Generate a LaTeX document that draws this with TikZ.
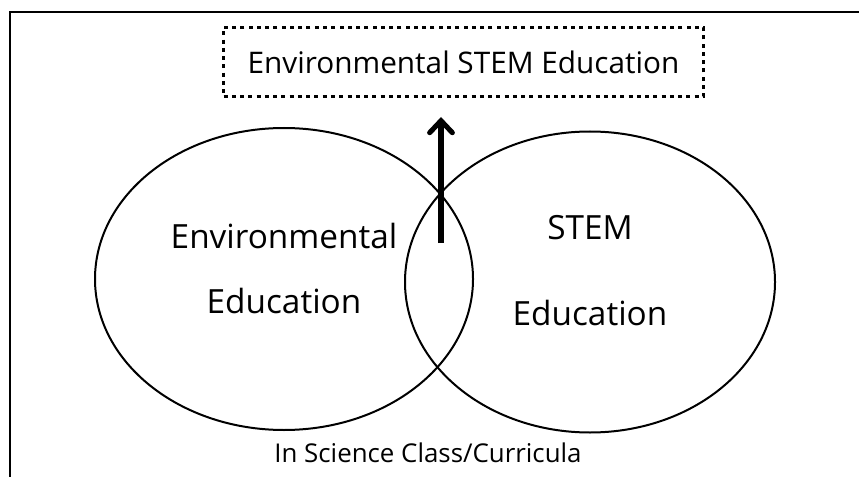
\documentclass[tikz,border=0pt]{standalone}
\usepackage{fontspec}
\setmainfont{Open Sans}
\usetikzlibrary{shapes.geometric,arrows.meta}

\tikzset{
  circ/.style={ellipse, draw, line width=1.5pt, inner sep=0pt, outer sep=0pt},
  lbl/.style={inner sep=0pt, font=\fontsize{25}{30}\selectfont},
  topbox/.style={draw, line width=2.3pt, dash pattern=on 3pt off 3.2pt,
    minimum width=360pt, minimum height=52pt, inner sep=0pt,
    font=\fontsize{22.3}{27}\selectfont}
}

\begin{document}
\begin{tikzpicture}[x=0.75pt,y=-0.75pt]
\useasboundingbox (0,0) rectangle (859,477);
% frame
\draw[line width=1.5pt] (10,477) -- (10,12) -- (859,12);
% the two sets
\node[circ, minimum width=283.5pt, minimum height=226.5pt] (c1) at (284,279) {};
\node[circ, minimum width=277.5pt, minimum height=225.75pt] (c2) at (590,282) {};
\node[lbl] (t1) at (284,236) {Environmental};
\node[lbl] (t2) at (284,301) {Education};
\node[lbl] (t3) at (590,228) {STEM};
\node[lbl] (t4) at (590,313) {Education};
% result of the overlap
\node[topbox] (top) at (463.5,62) {Environmental STEM Education};
\coordinate (a0) at (441,243);
\coordinate (a1) at (441,117);
\draw[line width=3.8pt, -{Straight Barb[length=9pt, width=17pt, line cap=round]}] (a0) -- (a1);
\node[inner sep=0pt, font=\fontsize{19.4}{23}\selectfont] (t5) at (428,453) {In Science Class/Curricula};
\end{tikzpicture}
\end{document}
